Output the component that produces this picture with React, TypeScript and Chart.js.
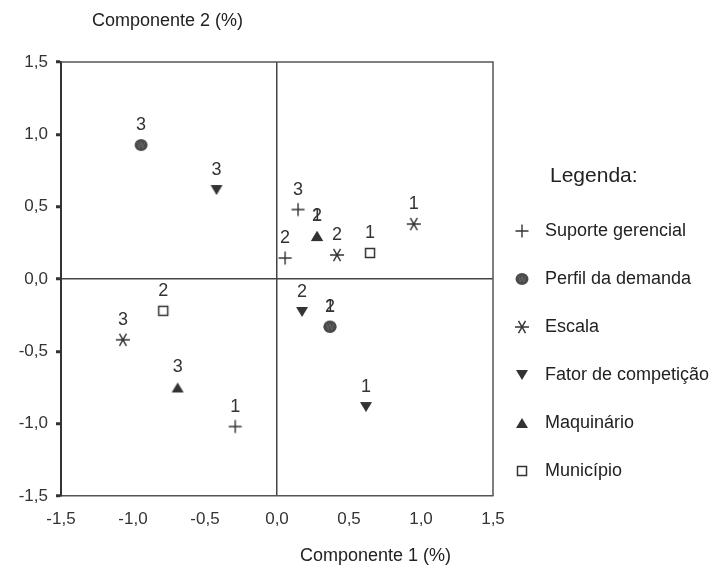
import React, { useEffect, useRef } from "react";
import { Chart, registerables } from "chart.js";

Chart.register(...registerables);

// ---- Data ----
const seriesNames = [
  "Suporte gerencial",
  "Perfil da demanda",
  "Escala",
  "Fator de competição",
  "Maquinário",
  "Município",
];

const suporteX = [-0.29, 0.056, 0.146];
const suporteY = [-1.02, 0.145, 0.48];
const suporteLabels = ["1", "2", "3"];

const perfilX = [0.368, 0.368, -0.944];
const perfilY = [-0.33, -0.33, 0.926];
const perfilLabels = ["1", "2", "3"];

const escalaX = [0.95, 0.417, -1.07];
const escalaY = [0.38, 0.166, -0.42];
const escalaLabels = ["1", "2", "3"];

const fatorX = [0.618, 0.174, -0.42];
const fatorY = [-0.885, -0.228, 0.615];
const fatorLabels = ["1", "2", "3"];

const maqX = [0.278, 0.278, -0.69];
const maqY = [0.297, 0.297, -0.75];
const maqLabels = ["1", "2", "3"];

const municipioX = [0.646, -0.79];
const municipioY = [0.18, -0.22];
const municipioLabels = ["1", "2"];

const tickValues = [-1.5, -1.0, -0.5, 0.0, 0.5, 1.0, 1.5];

const xTitle = "Componente 1 (%)";
const yTitle = "Componente 2 (%)";
const legendTitle = "Legenda:";

const FONT = "'Liberation Sans', Arial, sans-serif";
const INK = "#333333";

function makeMarker(kind: string): HTMLCanvasElement {
  const c = document.createElement("canvas");
  const s = 18;
  c.width = s;
  c.height = s;
  const g = c.getContext("2d")!;
  const m = s / 2;
  g.strokeStyle = INK;
  g.fillStyle = INK;
  g.lineWidth = 1.4;
  g.lineCap = "butt";
  if (kind === "plus") {
    g.beginPath();
    g.moveTo(m - 6.5, m);
    g.lineTo(m + 6.5, m);
    g.moveTo(m, m - 6.5);
    g.lineTo(m, m + 6.5);
    g.stroke();
  } else if (kind === "circle") {
    g.fillStyle = "#4a4a4a";
    g.beginPath();
    g.ellipse(m, m, 6.5, 6, 0, 0, Math.PI * 2);
    g.fill();
    g.strokeStyle = "#6a6a6a";
    g.lineWidth = 0.8;
    g.beginPath();
    g.moveTo(m - 3.5, m - 3);
    g.lineTo(m - 1.7, m + 3);
    g.lineTo(m, m - 3);
    g.lineTo(m + 1.7, m + 3);
    g.lineTo(m + 3.5, m - 3);
    g.stroke();
  } else if (kind === "star") {
    const r = 7;
    g.beginPath();
    g.moveTo(m - r, m);
    g.lineTo(m + r, m);
    for (const a of [Math.PI / 3, -Math.PI / 3]) {
      g.moveTo(m - r * Math.cos(a), m - r * Math.sin(a));
      g.lineTo(m + r * Math.cos(a), m + r * Math.sin(a));
    }
    g.stroke();
  } else if (kind === "down") {
    g.beginPath();
    g.moveTo(m - 6, m - 5);
    g.lineTo(m + 6, m - 5);
    g.lineTo(m, m + 5);
    g.closePath();
    g.fill();
  } else if (kind === "up") {
    g.beginPath();
    g.moveTo(m - 6, m + 5);
    g.lineTo(m + 6, m + 5);
    g.lineTo(m, m - 5);
    g.closePath();
    g.fill();
  } else if (kind === "square") {
    g.fillStyle = "#ffffff";
    g.fillRect(m - 4.5, m - 4.5, 9, 9);
    g.lineWidth = 1.5;
    g.strokeRect(m - 4.5, m - 4.5, 9, 9);
  }
  return c;
}

function pts(xs: number[], ys: number[]) {
  return xs.map((x, i) => ({ x, y: ys[i] }));
}

const fmt = (v: number) => v.toFixed(1).replace(".", ",");

export default function App() {
  const ref = useRef<HTMLCanvasElement | null>(null);

  useEffect(() => {
    if (!ref.current) return;
    const markers = ["plus", "circle", "star", "down", "up", "square"].map(makeMarker);
    const xs = [suporteX, perfilX, escalaX, fatorX, maqX, municipioX];
    const ys = [suporteY, perfilY, escalaY, fatorY, maqY, municipioY];
    const labs = [suporteLabels, perfilLabels, escalaLabels, fatorLabels, maqLabels, municipioLabels];

    const datasets = seriesNames.map((name, i) => ({
      label: name,
      data: pts(xs[i], ys[i]),
      pointStyle: markers[i] as any,
      pointRadius: 7,
      pointHoverRadius: 7,
      showLine: false,
      labelsText: labs[i],
    }));

    const overlay = {
      id: "overlay",
      beforeDatasetsDraw(chart: any) {
        const { ctx, chartArea: a } = chart;
        ctx.save();
        ctx.strokeStyle = "#555555";
        ctx.lineWidth = 1.5;
        ctx.beginPath();
        ctx.moveTo(a.left, a.top);
        ctx.lineTo(a.right, a.top);
        ctx.lineTo(a.right, a.bottom);
        ctx.stroke();
        ctx.restore();
      },
      afterDatasetsDraw(chart: any) {
        const { ctx } = chart;
        ctx.save();
        ctx.fillStyle = INK;
        ctx.font = `18px ${FONT}`;
        ctx.textAlign = "center";
        ctx.textBaseline = "bottom";
        chart.data.datasets.forEach((ds: any, di: number) => {
          const meta = chart.getDatasetMeta(di);
          meta.data.forEach((el: any, j: number) => {
            ctx.fillText(ds.labelsText[j], el.x, el.y - 11);
          });
        });
        ctx.restore();
      },
      afterDraw(chart: any) {
        const { ctx } = chart;
        ctx.save();
        ctx.fillStyle = "#222222";
        ctx.textBaseline = "middle";
        ctx.textAlign = "left";
        ctx.font = `18px ${FONT}`;
        ctx.fillText(yTitle, 92, 21);
        ctx.fillText(xTitle, 300, 556);
        ctx.font = `21px ${FONT}`;
        ctx.fillText(legendTitle, 550, 176);
        ctx.font = `18px ${FONT}`;
        chart.data.datasets.forEach((ds: any, i: number) => {
          const y = 231 + i * 48;
          const mk = markers[i];
          ctx.drawImage(mk, 522 - mk.width / 2, y - mk.height / 2);
          ctx.fillStyle = "#222222";
          ctx.fillText(ds.label, 545, y);
        });
        ctx.restore();
      },
    };

    const chart = new Chart(ref.current, {
      type: "scatter",
      data: { datasets: datasets as any },
      options: {
        animation: false,
        responsive: false,
        maintainAspectRatio: false,
        layout: { padding: { top: 62, right: 224, left: 0, bottom: 0 } },
        plugins: { legend: { display: false }, tooltip: { enabled: false } },
        scales: {
          x: {
            type: "linear",
            min: -1.5,
            max: 1.5,
            afterFit: (s: any) => {
              s.height = 79;
            },
            afterBuildTicks: (s: any) => {
              s.ticks = tickValues.map((v) => ({ value: v }));
            },
            ticks: {
              callback: (v: any) => fmt(Number(v)),
              color: INK,
              font: { size: 17, family: FONT },
              padding: 13,
              maxRotation: 0,
              autoSkip: false,
            },
            grid: {
              drawTicks: false,
              lineWidth: 1.5,
              color: (c: any) => (c.tick && Math.abs(c.tick.value) < 1e-9 ? "#444444" : "rgba(0,0,0,0)"),
            },
            border: { display: true, color: "#555555", width: 1.5 },
          },
          y: {
            type: "linear",
            min: -1.5,
            max: 1.5,
            afterFit: (s: any) => {
              s.width = 61;
            },
            afterBuildTicks: (s: any) => {
              s.ticks = tickValues.map((v) => ({ value: v }));
            },
            ticks: {
              callback: (v: any) => fmt(Number(v)),
              color: INK,
              font: { size: 17, family: FONT },
              padding: 8,
              autoSkip: false,
            },
            grid: {
              drawTicks: true,
              tickLength: 5,
              tickWidth: 3,
              tickColor: "#333333",
              lineWidth: 1.5,
              color: (c: any) => (c.tick && Math.abs(c.tick.value) < 1e-9 ? "#444444" : "rgba(0,0,0,0)"),
            },
            border: { display: true, color: "#333333", width: 2 },
          },
        },
      },
      plugins: [overlay],
    });
    return () => chart.destroy();
  }, []);

  return (
    <div style={{ position: "fixed", left: 0, top: 0, width: 717, height: 575, background: "#fff" }}>
      <canvas ref={ref} width={717} height={575} style={{ width: 717, height: 575, display: "block" }} />
    </div>
  );
}
